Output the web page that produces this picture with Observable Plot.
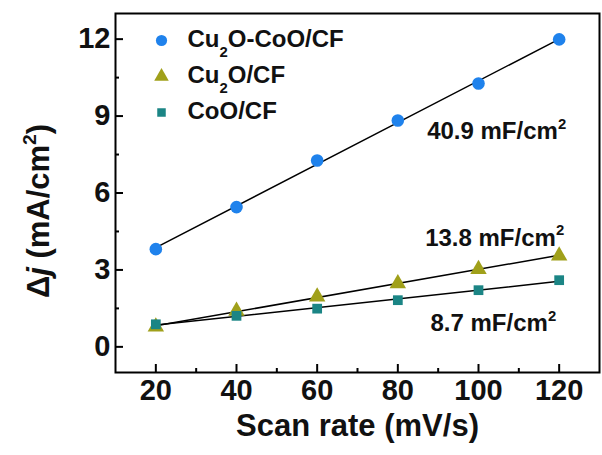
<!DOCTYPE html>
<html>
<head>
<meta charset="utf-8">
<script src="https://cdn.jsdelivr.net/npm/d3@7"></script>
<script src="https://cdn.jsdelivr.net/npm/@observablehq/plot@0.6"></script>
<style>
  html, body { margin: 0; padding: 0; background: #fff; }
  #chart { width: 602px; height: 455px; }
</style>
</head>
<body>
<div id="chart"></div>
<script>
// Double-layer capacitance: current density difference vs. scan rate
const scanRates = [20, 40, 60, 80, 100, 120];
const cu2oCooCF = [3.81, 5.45, 7.27, 8.83, 10.27, 11.99];
const cu2oCF = [0.78, 1.40, 1.95, 2.47, 3.03, 3.55];
const cooCF = [0.88, 1.21, 1.49, 1.82, 2.21, 2.60];
const seriesNames = ["Cu₂O-CoO/CF", "Cu₂O/CF", "CoO/CF"];
const capacitanceLabels = ["40.9 mF/cm²", "13.8 mF/cm²", "8.7 mF/cm²"];
const xTicks = [20, 40, 60, 80, 100, 120];
const xMinorTicks = [30, 50, 70, 90, 110];
const yTicks = [0, 3, 6, 9, 12];
const yMinorTicks = [1.5, 4.5, 7.5, 10.5];

const seriesValues = [cu2oCooCF, cu2oCF, cooCF];
const colors = ["#1f82ec", "#a0a01a", "#1b8585"];
const symbols = ["circle", "triangle", "square"];
const radii = [6.3, 6.1, 5.5];
// annotation offsets relative to each series' last point
const labelOffsets = [[7, 92], [5, -18], [-3, 43]];

const rows = seriesNames.flatMap((name, i) =>
  scanRates.map((x, j) => ({series: name, x, y: seriesValues[i][j]}))
);

const W = 602, H = 455;
const M = {top: 13, right: 3, bottom: 83, left: 115};
const plotW = W - M.left - M.right;
const plotH = H - M.top - M.bottom;
const font = "'Liberation Sans', Arial, Helvetica, sans-serif";

const marks = [];

// fitted lines
marks.push(Plot.linearRegressionY(rows, {
  x: "x", y: "y", z: "series", stroke: "black", strokeWidth: 1.5, ci: 0
}));

// data points
seriesNames.forEach((name, i) => {
  marks.push(Plot.dot(rows.filter(d => d.series === name), {
    x: "x", y: "y", symbol: () => symbols[i], fill: colors[i], r: radii[i], stroke: "none"
  }));
});

// capacitance annotations next to the last point of each series
seriesNames.forEach((name, i) => {
  const last = rows.filter(d => d.series === name).at(-1);
  marks.push(Plot.text([last], {
    x: "x", y: "y", text: () => capacitanceLabels[i], textAnchor: "end",
    dx: labelOffsets[i][0], dy: labelOffsets[i][1],
    fontSize: 24, fontWeight: "bold", fill: "#111"
  }));
});

// legend inside the frame, top-left
seriesNames.forEach((name, i) => {
  marks.push(Plot.dot([name], {
    frameAnchor: "top-left", dx: 46, dy: 27 + i * 36,
    symbol: () => symbols[i], fill: colors[i], r: radii[i] - 0.7, stroke: "none"
  }));
  marks.push(Plot.text([name], {
    frameAnchor: "top-left", dx: 72, dy: 26 + i * 36, text: d => d,
    textAnchor: "start", lineAnchor: "middle",
    fontSize: 24, fontWeight: "bold", fill: "#111"
  }));
});

// inward tick marks on bottom and left axes
marks.push(Plot.tickX(xTicks, {x: d => d, insetTop: plotH - 8, stroke: "black", strokeWidth: 2}));
marks.push(Plot.tickX(xMinorTicks, {x: d => d, insetTop: plotH - 4, stroke: "black", strokeWidth: 2}));
marks.push(Plot.tickY(yTicks, {y: d => d, insetRight: plotW - 8, stroke: "black", strokeWidth: 2}));
marks.push(Plot.tickY(yMinorTicks, {y: d => d, insetRight: plotW - 4, stroke: "black", strokeWidth: 2}));

// tick labels
marks.push(Plot.axisX(xTicks, {tickSize: 0, tickPadding: 7, fontSize: 29, fontWeight: "bold", label: null, fill: "#111"}));
marks.push(Plot.axisY(yTicks, {tickSize: 0, tickPadding: 5, fontSize: 29, fontWeight: "bold", label: null, fill: "#111"}));

// axis titles
marks.push(Plot.text(["Scan rate (mV/s)"], {
  frameAnchor: "bottom", dy: 54, text: d => d, textAnchor: "middle", lineAnchor: "middle",
  fontSize: 31, fontWeight: "bold", fill: "#111"
}));
marks.push(Plot.text(["Δj (mA/cm²)"], {
  frameAnchor: "left", dx: -76, dy: 18, rotate: -90, text: d => d,
  textAnchor: "middle", lineAnchor: "middle",
  fontSize: 31, fontWeight: "bold", fill: "#111"
}));

marks.push(Plot.frame({stroke: "black", strokeWidth: 2}));

const chart = Plot.plot({
  width: W, height: H,
  marginTop: M.top, marginRight: M.right, marginBottom: M.bottom, marginLeft: M.left,
  x: {domain: [10, 130], axis: null},
  y: {domain: [-1, 13], axis: null},
  style: {fontFamily: font, background: "#fff", overflow: "visible"},
  marks
});

// Turn sub/superscript characters and the italic "j" into tspans
function richify(svg) {
  const k = 0.62, shiftEm = 0.42;
  d3.select(svg).selectAll("text").each(function() {
    const el = this;
    if (el.querySelector("tspan")) return;
    const s = el.textContent;
    if (!/[₂²]|Δj/.test(s)) return;
    el.textContent = "";
    const sel = d3.select(el);
    let pending = 0;
    const parts = s.match(/₂|²|j|[^₂²j]+/g);
    for (const p of parts) {
      const t = sel.append("tspan");
      if (p === "₂" || p === "²") {
        const dir = p === "₂" ? 1 : -1;
        t.text("2").attr("font-size", `${k}em`).attr("dy", `${(dir * shiftEm) / k}em`);
        pending = -dir * shiftEm;
      } else {
        t.text(p);
        if (p === "j" && s.startsWith("Δj")) t.attr("font-style", "italic");
        if (pending) t.attr("dy", `${pending}em`);
        pending = 0;
      }
    }
  });
}
richify(chart);
document.getElementById("chart").append(chart);
</script>
</body>
</html>
